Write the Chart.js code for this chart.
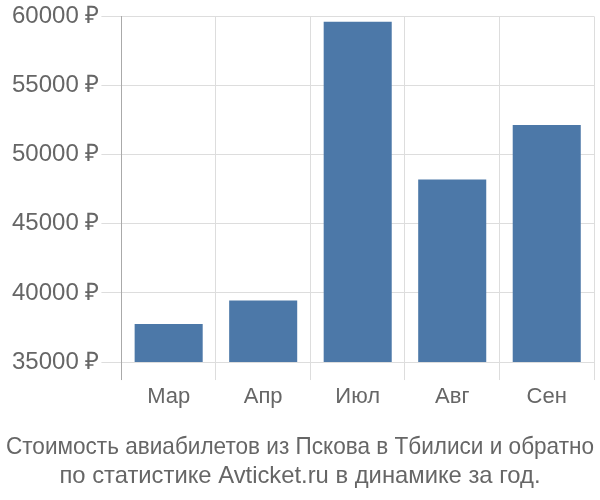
<!DOCTYPE html>
<html>
<head>
<meta charset="utf-8">
<script src="https://cdn.jsdelivr.net/npm/chart.js@4"></script>
<style>
html,body{margin:0;padding:0;background:#fff;}
#wrap{width:600px;height:500px;}
</style>
</head>
<body>
<div id="wrap"><canvas id="c" width="600" height="500"></canvas></div>
<script>
const categories = ["Мар", "Апр", "Июл", "Авг", "Сен"];
const prices = [37750, 39450, 59620, 48200, 52150];
const yTicks = [35000, 40000, 45000, 50000, 55000, 60000];
const titleLines = ["Стоимость авиабилетов из Пскова в Тбилиси и обратно", "по статистике Avticket.ru в динамике за год."];

const FONT = "'Liberation Sans', Arial, sans-serif";
new Chart(document.getElementById('c'), {
  type: 'bar',
  data: {
    labels: categories,
    datasets: [{
      data: prices,
      backgroundColor: '#4c78a8',
      borderWidth: 0
    }]
  },
  options: {
    responsive: false,
    animation: false,
    devicePixelRatio: 1,
    layout: { padding: { left: 6, right: 6, top: -2, bottom: 9 } },
    plugins: {
      legend: { display: false },
      tooltip: { enabled: false },
      title: {
        display: true,
        position: 'bottom',
        text: titleLines,
        color: '#666',
        font: { family: FONT, size: 23.8, weight: 'normal', lineHeight: 1.23 },
        padding: { top: 18, bottom: 0 }
      }
    },
    scales: {
      x: {
        grid: {
          color: (ctx) => ctx.index === 0 ? '#aaa' : '#ddd',
          lineWidth: 1,
          tickLength: 18,
          offset: true
        },
        border: { display: false },
        ticks: { color: '#666', font: { family: FONT, size: 22 }, padding: 4 }
      },
      y: {
        min: 35000,
        max: 60000,
        afterBuildTicks: (axis) => { axis.ticks = yTicks.map(v => ({ value: v })); },
        afterFit: (axis) => { axis.width += 4; },
        grid: { color: '#ddd', lineWidth: 1, tickLength: 20 },
        border: { display: true, color: '#aaa', width: 1 },
        ticks: {
          color: '#666',
          font: { family: FONT, size: 24 },
          padding: 2,
          callback: (v) => v + ' ₽'
        }
      }
    }
  }
});
</script>
</body>
</html>
